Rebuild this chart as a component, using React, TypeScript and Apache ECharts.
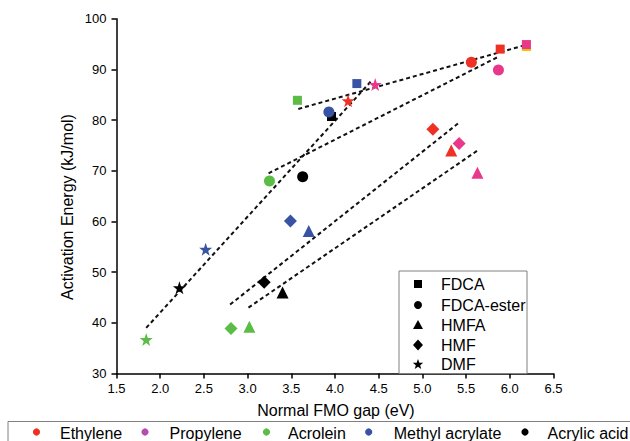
import React, { useEffect, useRef } from "react";
import * as echarts from "echarts";

// ---- data ----
const molecules = ["Ethylene", "Propylene", "Acrolein", "Methyl acrylate", "Acrylic acid"];
const derivatives = ["FDCA", "FDCA-ester", "HMFA", "HMF", "DMF"];

// x = Normal FMO gap (eV), y = Activation energy (kJ/mol); order follows `molecules`
const fdcaX = [5.89, 6.19, 3.57, 4.25, 3.96];
const fdcaY = [94.0, 94.9, 83.9, 87.2, 80.7];
const fdcaEsterX = [5.56, 5.87, 3.25, 3.93, 3.63];
const fdcaEsterY = [91.4, 89.9, 68.0, 81.6, 68.8];
const hmfaX = [5.33, 5.63, 3.02, 3.70, 3.40];
const hmfaY = [74.0, 69.6, 39.2, 58.1, 46.0];
const hmfX = [5.12, 5.42, 2.81, 3.49, 3.19];
const hmfY = [78.2, 75.4, 38.9, 60.1, 48.0];
const dmfX = [4.15, 4.46, 1.84, 2.52, 2.22];
const dmfY = [83.8, 87.0, 36.7, 54.5, 46.9];

// partially hidden marker under the propylene FDCA square
const hiddenX = [6.19];
const hiddenY = [94.5];

// dashed trend lines (end points)
const fitFDCA = [[3.58, 82.2], [6.2, 94.9]];
const fitFDCAEster = [[3.24, 69.5], [5.87, 92.5]];
const fitHMFA = [[3.01, 43.0], [5.64, 74.1]];
const fitHMF = [[2.80, 43.6], [5.42, 79.5]];
const fitDMF = [[1.84, 39.0], [4.42, 87.8]];

const xTicks = [1.5, 2.0, 2.5, 3.0, 3.5, 4.0, 4.5, 5.0, 5.5, 6.0, 6.5];
const yTicks = [30, 40, 50, 60, 70, 80, 90, 100];

// ---- styles ----
const moleculeColors = ["#ee3124", "#e8388b", "#5bbd45", "#3953a4", "#000000"];
const legendDotColors = ["#ee3124", "#b04fb0", "#5bbd45", "#3953a4", "#000000"];
const FONT = '"Liberation Sans", Arial, Helvetica, sans-serif';
const STAR = "path://M50 0L61.8 35.1L98.1 35.1L68.8 56.7L79.4 91L50 70L20.6 91L31.2 56.7L1.9 35.1L38.2 35.1Z";

const pairs = (xs: number[], ys: number[]) =>
  xs.map((x, i) => ({ value: [x, ys[i]], itemStyle: { color: moleculeColors[i], opacity: 1 } }));

function starPoints(cx: number, cy: number, R: number, r: number) {
  const pts: number[][] = [];
  for (let i = 0; i < 10; i++) {
    const a = -Math.PI / 2 + (i * Math.PI) / 5;
    const rad = i % 2 === 0 ? R : r;
    pts.push([cx + rad * Math.cos(a), cy + rad * Math.sin(a)]);
  }
  return pts;
}

export default function App() {
  const ref = useRef<HTMLDivElement>(null);

  useEffect(() => {
    if (!ref.current) return;
    const chart = echarts.init(ref.current, null, { renderer: "svg" });

    const dash = { color: "#111", width: 2, type: [4, 3] as any };
    const fitSeries = [fitFDCA, fitFDCAEster, fitHMFA, fitHMF, fitDMF].map((d, i) => ({
      type: "line",
      name: "fit-" + derivatives[i],
      data: d,
      showSymbol: false,
      symbol: "none",
      lineStyle: dash,
      silent: true,
      z: 1,
    }));

    const shapes = [
      { name: derivatives[0], symbol: "rect", size: 9, data: pairs(fdcaX, fdcaY) },
      { name: derivatives[1], symbol: "circle", size: 11, data: pairs(fdcaEsterX, fdcaEsterY) },
      { name: derivatives[2], symbol: "triangle", size: 12, data: pairs(hmfaX, hmfaY) },
      { name: derivatives[3], symbol: "diamond", size: 13, data: pairs(hmfX, hmfY) },
      { name: derivatives[4], symbol: STAR, size: 13, data: pairs(dmfX, dmfY) },
    ];

    const scatterSeries: any[] = [
      {
        type: "scatter",
        name: "hidden",
        symbol: "rect",
        symbolSize: 9,
        data: hiddenX.map((x, i) => [x, hiddenY[i]]),
        itemStyle: { color: "#f2c200", opacity: 1 },
        z: 2,
      },
      ...shapes.map((s) => ({
        type: "scatter",
        name: s.name,
        symbol: s.symbol,
        symbolSize: s.size,
        data: s.data,
        itemStyle: { color: "#000", opacity: 1 },
        z: 3,
      })),
    ];

    // inner legend (shapes)
    const boxL = 399, boxT = 271, boxR = 527, boxB = 373.5;
    const legX = 418, textX = 441;
    const legY = [284, 305, 325, 345, 364];
    const innerLegend: any[] = [
      {
        type: "rect",
        shape: { x: boxL, y: boxT, width: boxR - boxL, height: boxB - boxT },
        style: { fill: "#fff", stroke: "#808080", lineWidth: 1 },
        z: 10,
      },
      { type: "rect", shape: { x: legX - 4, y: legY[0] - 4, width: 8, height: 8 }, style: { fill: "#000" }, z: 11 },
      { type: "circle", shape: { cx: legX, cy: legY[1], r: 4 }, style: { fill: "#000" }, z: 11 },
      {
        type: "polygon",
        shape: { points: [[legX, legY[2] - 5], [legX + 5, legY[2] + 4], [legX - 5, legY[2] + 4]] },
        style: { fill: "#000" },
        z: 11,
      },
      {
        type: "polygon",
        shape: { points: [[legX, legY[3] - 5.5], [legX + 5, legY[3]], [legX, legY[3] + 5.5], [legX - 5, legY[3]]] },
        style: { fill: "#000" },
        z: 11,
      },
      { type: "polygon", shape: { points: starPoints(legX, legY[4] + 0.5, 5.5, 2.3) }, style: { fill: "#000" }, z: 11 },
      ...derivatives.map((d, i) => ({
        type: "text",
        x: textX,
        y: legY[i],
        style: { text: d, font: `16px ${FONT}`, fill: "#000", align: "left", verticalAlign: "middle" },
        z: 11,
      })),
    ];

    // bottom legend (molecules / colours)
    const dotX = [36.5, 145, 266.5, 368.7, 525];
    const molTextX = [60, 169.6, 288, 393.7, 547.6];
    const bottomY = 432;
    const bottomLegend: any[] = [
      {
        type: "rect",
        shape: { x: 8, y: 421.5, width: 640, height: 40 },
        style: { fill: "none", stroke: "#808080", lineWidth: 1 },
        z: 10,
      },
      ...molecules.map((m, i) => ({
        type: "circle",
        shape: { cx: dotX[i], cy: bottomY, r: 3.6 },
        style: { fill: legendDotColors[i] },
        z: 11,
      })),
      ...molecules.map((m, i) => ({
        type: "text",
        x: molTextX[i],
        y: bottomY + 1.5,
        style: { text: m, font: `16px ${FONT}`, fill: "#000", align: "left", verticalAlign: "middle" },
        z: 11,
      })),
    ];

    const axisNames: any[] = [
      {
        type: "text",
        x: 67.5,
        y: 207,
        rotation: Math.PI / 2,
        style: {
          text: "Activation Energy (kJ/mol)",
          font: `16px ${FONT}`,
          fill: "#000",
          align: "center",
          verticalAlign: "middle",
        },
      },
      {
        type: "text",
        x: 336,
        y: 410,
        style: {
          text: "Normal FMO gap (eV)",
          font: `16px ${FONT}`,
          fill: "#000",
          align: "center",
          verticalAlign: "middle",
        },
      },
    ];

    chart.setOption({
      animation: false,
      backgroundColor: "#fff",
      grid: { left: 116.5, right: 76.5, top: 18.7, bottom: 67.5 },
      xAxis: {
        type: "value",
        min: xTicks[0],
        max: xTicks[xTicks.length - 1],
        interval: 0.5,
        axisLine: { lineStyle: { color: "#000", width: 1.5 } },
        axisTick: { show: true, inside: false, length: 5, lineStyle: { color: "#000", width: 1.5 } },
        axisLabel: {
          color: "#000",
          fontSize: 13,
          fontFamily: FONT,
          margin: 8,
          formatter: (v: number) => v.toFixed(1),
        },
        splitLine: { show: false },
      },
      yAxis: {
        type: "value",
        min: yTicks[0],
        max: yTicks[yTicks.length - 1],
        interval: 10,
        axisLine: { show: true, lineStyle: { color: "#000", width: 1.5 } },
        axisTick: { show: true, inside: false, length: 5, lineStyle: { color: "#000", width: 1.5 } },
        axisLabel: { color: "#000", fontSize: 13, fontFamily: FONT, margin: 10 },
        splitLine: { show: false },
      },
      series: [...fitSeries, ...scatterSeries],
      graphic: [...axisNames, ...innerLegend, ...bottomLegend],
    });

    return () => chart.dispose();
  }, []);

  return <div ref={ref} style={{ width: 630, height: 441, position: "absolute", left: 0, top: 0 }} />;
}
